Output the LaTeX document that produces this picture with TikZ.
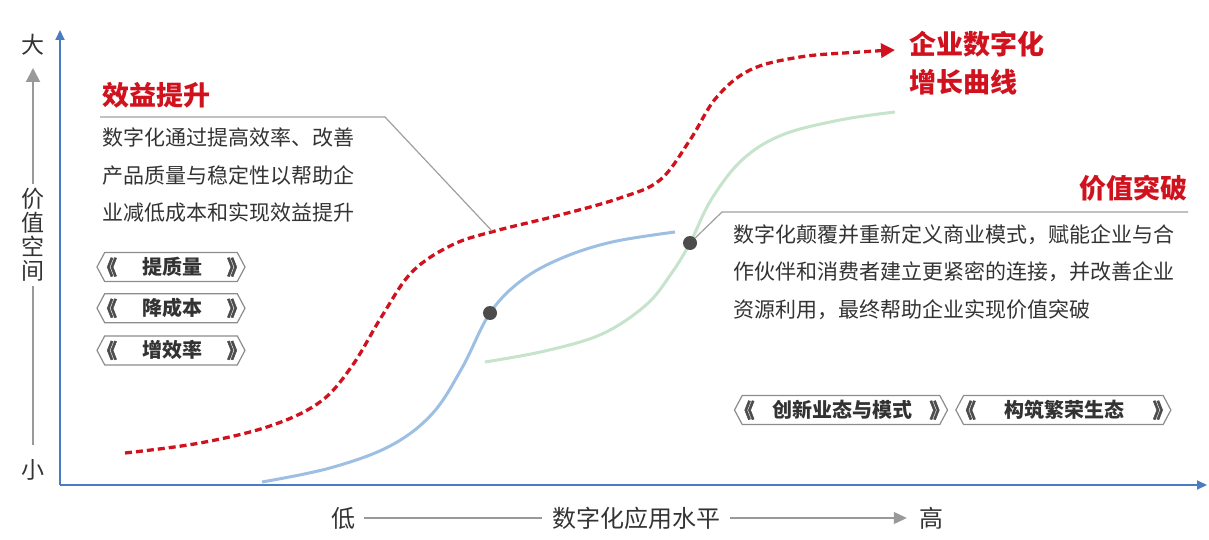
\documentclass[tikz,border=0pt]{standalone}
\usepackage{fontspec}
\setmainfont{Noto Sans CJK SC}
\newfontfamily\chevfont[FakeBold=2.5]{Noto Sans CJK SC}
\usetikzlibrary{arrows.meta,shapes.symbols,positioning,calc}
\definecolor{axisblue}{HTML}{4A7CC4}
\definecolor{growred}{HTML}{D0121E}
\definecolor{lightblue}{HTML}{9DBFE3}
\definecolor{lightgreen}{HTML}{C6E3CB}
\definecolor{inkgray}{HTML}{333333}
\newcommand{\tagtext}[2]{\makebox[#1]{\hspace{-8pt}{\chevfont\color{black!70}《}\hfill#2\hfill{\chevfont\color{black!70}》}\hspace{-10pt}}}

\begin{document}
\begin{tikzpicture}[
    x=1pt, y=-1pt,
    >=Stealth,
    ttl/.style={anchor=west, inner sep=0pt, text=growred,
        font=\fontsize{27}{34}\selectfont\bfseries},
    bodytxt/.style={anchor=north west, inner sep=0pt, align=left, text=inkgray,
        font=\fontsize{21}{37.5}\selectfont},
    axlbl/.style={inner sep=0pt, text=inkgray, font=\fontsize{23}{25}\selectfont},
    tagbox/.style={draw=gray!90, line width=1.2pt, signal, signal to=west and east,
        signal pointer angle=124, minimum height=29pt, inner sep=0pt,
        text=inkgray, font=\fontsize{20}{22}\selectfont\bfseries},
    leader/.style={draw=gray!75, line width=1.2pt},
    dot/.style={circle, fill=black!70, inner sep=0pt, minimum size=14pt},
    curve/.style={line width=3pt, smooth, tension=0.6}
]
\useasboundingbox (0,0) rectangle (1209,540);

% axes
\coordinate (origin) at (60,485);
\coordinate (ytop) at (60,30);
\coordinate (xend) at (1207,485);
\draw[axisblue, line width=2pt, -{Triangle[length=10pt,width=9pt]}] (origin) -- (ytop);
\draw[axisblue, line width=2pt, -{Triangle[length=10pt,width=9pt]}] (origin) -- (xend);

% value axis label
\node[axlbl] (big) at (33,45) {大};
\node[axlbl] (small) at (33,470) {小};
\node[axlbl, align=center, font=\fontsize{23}{24}\selectfont] (vspace) at (33,235) {价\\值\\空\\间};
\draw[gray!80, line width=2pt, -{Triangle[length=14pt,width=14pt]}] (vspace.north) ++(0,-4) -- (33,68);
\draw[gray!80, line width=2pt] (vspace.south) ++(0,4) -- (33,445);

% level axis label
\node[axlbl, font=\fontsize{24}{26}\selectfont] (low) at (343,518) {低};
\node[axlbl, font=\fontsize{24}{26}\selectfont] (level) at (636,518) {数字化应用水平};
\node[axlbl, font=\fontsize{24}{26}\selectfont] (high) at (931,518) {高};
\draw[gray!80, line width=1.2pt] ([xshift=9pt]low.east) -- ([xshift=-10pt]level.west);
\draw[gray!80, line width=1.2pt, -{Triangle[length=13pt,width=12pt]}] ([xshift=10pt]level.east) -- ([xshift=-12pt]high.west);

% curves
\draw[curve, lightblue] plot coordinates {(262,482) (330,468) (390,446) (432,414) (462,368) (490,313) (522,280) (562,258) (612,242) (675,232)};
\draw[curve, lightgreen] plot coordinates {(485,362) (545,351) (602,334) (646,305) (671,274) (690,243) (711,200) (742,160) (782,135) (840,120) (895,112)};
\draw[curve, growred, line width=3.3pt, dashed, dash pattern=on 7pt off 4pt, -{Triangle[length=14pt,width=14pt]}] plot coordinates {(125,453) (200,443) (270,426) (320,402) (352,366) (382,316) (412,272) (452,245) (495,231) (560,215) (620,198) (660,180) (690,140) (716,98) (750,70) (800,57) (860,52) (895,50)};

\node[dot] (dotA) at (490,313) {};
\node[dot] (dotB) at (690,243) {};

% growth curve name
\node[ttl, anchor=north west, align=left, font=\fontsize{27}{38}\selectfont\bfseries] (growT) at (909,31) {企业数字化\\增长曲线};

% benefit block
\node[ttl] (gainT) at (102,95) {效益提升};
\coordinate (gainL) at (100,117);
\coordinate (gainK) at (385,117);
\coordinate (hitA) at (492,231);
\draw[leader] (gainL) -- (gainK) -- (hitA);
\node[bodytxt] (gainB) at (102,128) {数字化通过提高效率、改善\\产品质量与稳定性以帮助企\\业减低成本和实现效益提升};

\node[tagbox, minimum width=148pt] (tag1) at (171,267) {\tagtext{132pt}{提质量}};
\node[tagbox, minimum width=148pt, below=11pt of tag1] (tag2) {\tagtext{132pt}{降成本}};
\node[tagbox, minimum width=148pt, below=12pt of tag2] (tag3) {\tagtext{132pt}{增效率}};

% breakthrough block
\node[ttl, anchor=east] (breakT) at (1188,188) {价值突破};
\coordinate (breakK) at (722,212);
\coordinate (breakR) at (1188,212);
\draw[leader] (dotB) -- (breakK) -- (breakR);
\node[bodytxt] (breakB) at (733,224) {数字化颠覆并重新定义商业模式，赋能企业与合\\作伙伴和消费者建立更紧密的连接，并改善企业\\资源利用，最终帮助企业实现价值突破};

\node[tagbox, minimum width=213pt] (tag4) at (841,410) {\tagtext{197pt}{\hspace{4pt}创新业态与模式\hspace{4pt}}};
\node[tagbox, minimum width=215pt, right=7pt of tag4] (tag5) {\tagtext{199pt}{\hspace{22pt}构筑繁荣生态\hspace{22pt}}};
\end{tikzpicture}
\end{document}
